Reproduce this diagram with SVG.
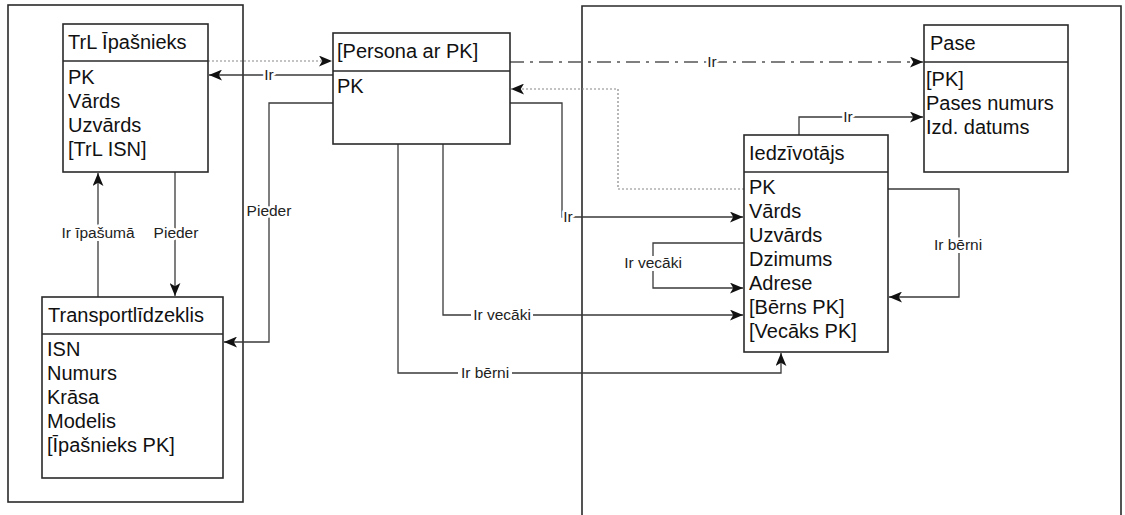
<svg xmlns="http://www.w3.org/2000/svg" width="1125" height="515" viewBox="0 0 1125 515">
<style>
.box{fill:#fff;stroke:#2a2a2a;stroke-width:1.6}
.cont{fill:none;stroke:#2a2a2a;stroke-width:1.6}
.t{font-family:"Liberation Sans",Arial,sans-serif;font-size:20px;fill:#111}
.lbl{font-family:"Liberation Sans",Arial,sans-serif;font-size:15.5px;fill:#222;text-anchor:middle;paint-order:stroke;stroke:#fff;stroke-width:5px;stroke-linejoin:round}
.bg{fill:#fff}
.c{fill:none;stroke:#3a3a3a;stroke-width:1.3}
.dot{fill:none;stroke:#888;stroke-width:1.2;stroke-dasharray:2 2}
.dd{fill:none;stroke:#555;stroke-width:1.3;stroke-dasharray:14 6 3 6}
</style>
<defs>
<marker id="a" viewBox="0 0 12 10" refX="12" refY="5" markerWidth="13" markerHeight="11" markerUnits="userSpaceOnUse" orient="auto">
<path d="M0,0 L12,5 L0,10 L3,5 z" fill="#111"/>
</marker>
</defs>
<rect width="1125" height="515" fill="#fff"/>
<g id="containers">
<rect class="cont" x="8" y="5" width="235" height="497"/>
<path class="cont" d="M582,515 V6 H1121 V515"/>
</g>
<g id="connectors">
<path class="c" d="M333,75 H209" marker-end="url(#a)"/>
<path class="dot" d="M208,61 H332" marker-end="url(#a)"/>
<path class="dd" d="M510,62 H923" marker-end="url(#a)"/>
<path class="c" d="M333,103 H269 V342 H224" marker-end="url(#a)"/>
<path class="c" d="M175,172 V296" marker-end="url(#a)"/>
<path class="c" d="M98,297 V173" marker-end="url(#a)"/>
<path class="c" d="M510,103 H562 V217 H743" marker-end="url(#a)"/>
<path class="dot" d="M744,189 H618 V89 H511" marker-end="url(#a)"/>
<path class="c" d="M799,135 V117 H923" marker-end="url(#a)"/>
<path class="c" d="M888,189 H959 V297 H889" marker-end="url(#a)"/>
<path class="c" d="M744,243 H653 V288 H743" marker-end="url(#a)"/>
<path class="c" d="M443,144 V315 H743" marker-end="url(#a)"/>
<path class="c" d="M398,144 V373 H781 V353" marker-end="url(#a)"/>
<rect class="bg" x="60" y="226" width="76" height="15"/>
<rect class="bg" x="622" y="256" width="62" height="15"/>
<rect class="bg" x="471" y="308" width="62" height="15"/>
<rect class="bg" x="458" y="366" width="54" height="15"/>
<rect class="bg" x="931" y="238" width="54" height="15"/>
<text class="lbl" x="269" y="80">Ir</text>
<text class="lbl" x="712" y="67">Ir</text>
<text class="lbl" x="848" y="122">Ir</text>
<text class="lbl" x="269" y="216">Pieder</text>
<text class="lbl" x="98" y="238">Ir īpašumā</text>
<text class="lbl" x="176" y="238">Pieder</text>
<text class="lbl" x="568" y="222">Ir</text>
<text class="lbl" x="653" y="268">Ir vecāki</text>
<text class="lbl" x="502" y="320">Ir vecāki</text>
<text class="lbl" x="485" y="378">Ir bērni</text>
<text class="lbl" x="958" y="250">Ir bērni</text>
</g>
<g id="trl-ipasnieks">
<rect class="box" x="63" y="24" width="145" height="148"/>
<line class="box" x1="63" y1="61" x2="208" y2="61"/>
<text class="t" x="68" y="49">TrL Īpašnieks</text>
<text class="t" x="68" y="84">PK</text>
<text class="t" x="68" y="108">Vārds</text>
<text class="t" x="68" y="132">Uzvārds</text>
<text class="t" x="68" y="156">[TrL ISN]</text>
</g>
<g id="transportlidzeklis">
<rect class="box" x="42" y="297" width="181" height="181"/>
<line class="box" x1="42" y1="334" x2="223" y2="334"/>
<text class="t" x="48" y="322">Transportlīdzeklis</text>
<text class="t" x="47" y="356">ISN</text>
<text class="t" x="47" y="380">Numurs</text>
<text class="t" x="47" y="404">Krāsa</text>
<text class="t" x="47" y="428">Modelis</text>
<text class="t" x="47" y="452">[Īpašnieks PK]</text>
</g>
<g id="persona">
<rect class="box" x="333" y="33" width="177" height="111"/>
<line class="box" x1="333" y1="71" x2="510" y2="71"/>
<text class="t" x="337" y="58">[Persona ar PK]</text>
<text class="t" x="337" y="93">PK</text>
</g>
<g id="pase">
<rect class="box" x="924" y="25" width="144" height="147"/>
<line class="box" x1="924" y1="62" x2="1068" y2="62"/>
<text class="t" x="930" y="50">Pase</text>
<text class="t" x="926" y="86">[PK]</text>
<text class="t" x="926" y="110">Pases numurs</text>
<text class="t" x="926" y="134">Izd. datums</text>
</g>
<g id="iedzivotajs">
<rect class="box" x="744" y="135" width="144" height="217"/>
<line class="box" x1="744" y1="172" x2="888" y2="172"/>
<text class="t" x="749" y="160">Iedzīvotājs</text>
<text class="t" x="749" y="194">PK</text>
<text class="t" x="749" y="218">Vārds</text>
<text class="t" x="749" y="242">Uzvārds</text>
<text class="t" x="749" y="266">Dzimums</text>
<text class="t" x="749" y="290">Adrese</text>
<text class="t" x="749" y="314">[Bērns PK]</text>
<text class="t" x="749" y="338">[Vecāks PK]</text>
</g>
</svg>
